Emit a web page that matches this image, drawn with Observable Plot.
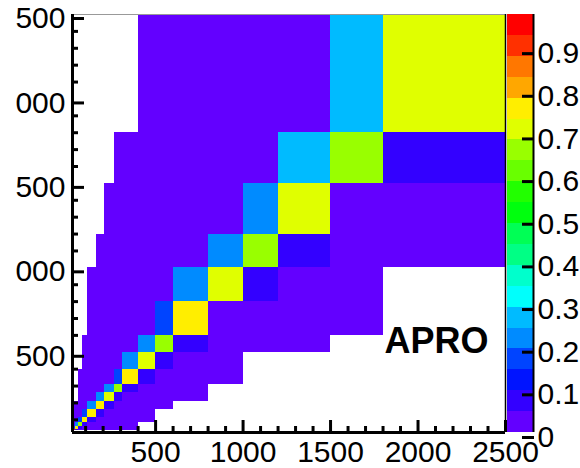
<!DOCTYPE html>
<html><head><meta charset="utf-8">
<script src="https://cdn.jsdelivr.net/npm/d3@7"></script>
<script src="https://cdn.jsdelivr.net/npm/@observablehq/plot@0.6"></script>
<style>
body{margin:0;background:#fff;}
#wrap{position:relative;width:580px;height:468px;overflow:hidden;background:#fff;}
#wrap svg{position:absolute;top:0;overflow:visible;}
</style></head><body><div id="wrap"></div>
<script>
// Bin edges (same binning on both axes)
const binEdges = [35, 45, 62, 83, 112, 160, 210, 263, 310, 400, 500, 600, 800, 1000, 1200, 1500, 1800, 2500];
const axisRange = [25, 2500];
const majorTicks = [500, 1000, 1500, 2000, 2500];
const minorTicks = [100, 200, 300, 400, 600, 700, 800, 900, 1100, 1200, 1300, 1400, 1600, 1700, 1800, 1900, 2100, 2200, 2300, 2400];
const zTicks = [0, 0.1, 0.2, 0.3, 0.4, 0.5, 0.6, 0.7, 0.8, 0.9];
const zMax = 0.98;
const nLevels = 20;
const annotation = ["APRO"];
// ROOT "pretty" palette picked for 20 contour levels
const palette = ["#6300ff","#3300ff","#0014ff","#0044ff","#008bff","#00bbff","#00fffc","#00ffcc","#00ff85","#00ff55",
                 "#00ff0e","#22ff00","#69ff00","#99ff00","#e0ff00","#ffee00","#ffa700","#ff7700","#ff3000","#ff0000"];
// Matrix: rows = y bins (bottom to top), columns = x bins (left to right); 0 = empty
const z = [
  [0.98,0.07,0.02,0.02,0.02,0.02,0.02,0.02,0.02,0,0,0,0,0,0,0,0],
  [0.17,0.76,0.07,0.02,0.02,0.02,0.02,0.02,0.02,0,0,0,0,0,0,0,0],
  [0.02,0.22,0.66,0.07,0.02,0.02,0.02,0.02,0.02,0,0,0,0,0,0,0,0],
  [0.02,0.02,0.17,0.76,0.07,0.02,0.02,0.02,0.02,0.02,0,0,0,0,0,0,0],
  [0.02,0.02,0.02,0.17,0.76,0.07,0.02,0.02,0.02,0.02,0,0,0,0,0,0,0],
  [0.02,0.02,0.02,0.02,0.22,0.76,0.07,0.02,0.02,0.02,0.02,0,0,0,0,0,0],
  [0,0,0.02,0.02,0.02,0.22,0.71,0.07,0.02,0.02,0.02,0.02,0,0,0,0,0],
  [0,0,0.02,0.02,0.02,0.02,0.22,0.66,0.07,0.02,0.02,0.02,0,0,0,0,0],
  [0,0,0.02,0.02,0.02,0.02,0.02,0.17,0.76,0.07,0.02,0.02,0.02,0,0,0,0],
  [0,0,0,0.02,0.02,0.02,0.02,0.02,0.22,0.71,0.07,0.02,0.02,0,0,0,0],
  [0,0,0,0.02,0.02,0.02,0.02,0.02,0.02,0.22,0.66,0.07,0.02,0.02,0.02,0,0],
  [0,0,0,0,0.02,0.02,0.02,0.02,0.02,0.02,0.17,0.76,0.02,0.02,0.02,0.02,0],
  [0,0,0,0,0.02,0.02,0.02,0.02,0.02,0.02,0.02,0.22,0.71,0.07,0.02,0.02,0],
  [0,0,0,0,0,0.02,0.02,0.02,0.02,0.02,0.02,0.02,0.22,0.66,0.07,0.02,0.02],
  [0,0,0,0,0,0,0.02,0.02,0.02,0.02,0.02,0.02,0.02,0.22,0.71,0.02,0.02],
  [0,0,0,0,0,0,0,0.02,0.02,0.02,0.02,0.02,0.02,0.02,0.27,0.66,0.07],
  [0,0,0,0,0,0,0,0,0,0.02,0.02,0.02,0.02,0.02,0.02,0.27,0.71]
];

const cells = [];
z.forEach((row, j) => row.forEach((v, i) => {
  if (v > 0) cells.push({x1: binEdges[i], x2: binEdges[i + 1], y1: binEdges[j], y2: binEdges[j + 1], v});
}));
const thresholds = d3.range(1, nLevels).map(k => k * zMax / nLevels);
const levels = d3.range(nLevels).map(k => ({lo: k * zMax / nLevels, hi: (k + 1) * zMax / nLevels, c: palette[k]}));

const font = "'Liberation Sans', Arial, Helvetica, sans-serif";
const fmt = d => String(d);

const main = Plot.plot({
  width: 580, height: 468,
  marginLeft: 72, marginRight: 75, marginTop: 14, marginBottom: 36,
  style: {fontFamily: font, background: "transparent", overflow: "visible"},
  x: {domain: axisRange, axis: null, label: null},
  y: {domain: axisRange, axis: null, label: null},
  color: {type: "threshold", domain: thresholds, range: palette},
  marks: [
    Plot.rect(cells, {x1: "x1", x2: "x2", y1: "y1", y2: "y2", fill: "v", shapeRendering: "crispEdges"}),
    Plot.ruleY([axisRange[1]], {stroke: "#999", strokeWidth: 1}),
    Plot.ruleX([axisRange[1]], {stroke: "#000", strokeWidth: 1.5}),
    Plot.ruleX([axisRange[0]], {stroke: "#000", strokeWidth: 3}),
    Plot.ruleY([axisRange[0]], {stroke: "#000", strokeWidth: 3}),
    Plot.axisX(minorTicks, {tickSize: -6, strokeWidth: 3, fill: "none", label: null}),
    Plot.axisY(minorTicks, {tickSize: -6, strokeWidth: 3, fill: "none", label: null}),
    Plot.axisX(majorTicks, {tickSize: -12, strokeWidth: 3, tickPadding: 20, fontSize: 30, tickFormat: fmt, label: null, fill: "#000"}),
    Plot.axisY(majorTicks, {tickSize: -12, strokeWidth: 3, tickPadding: 19, dy: 4, fontSize: 30, tickFormat: fmt, label: null, fill: "#000"}),
    Plot.text(annotation, {frameAnchor: "bottom-right", textAnchor: "end", lineAnchor: "bottom", dx: -17, dy: -80,
      fontSize: 36, fontWeight: "bold", fill: "#000"})
  ]
});
main.style.left = "0px";
// the reference crops the leading digit of the left-hand labels
main.style.clipPath = "inset(0px 0px 0px 15px)";

const bar = Plot.plot({
  width: 73, height: 468,
  marginLeft: 0, marginRight: 47, marginTop: 14, marginBottom: 36,
  style: {fontFamily: font, background: "transparent", overflow: "visible"},
  x: {domain: [0, 1], axis: null},
  y: {domain: [0, zMax], axis: null, label: null},
  marks: [
    Plot.rect(levels, {y1: "lo", y2: "hi", fill: "c", shapeRendering: "crispEdges"}),
    Plot.ruleX([1], {stroke: "#000", strokeWidth: 2}),
    Plot.axisY(zTicks, {anchor: "right", tickSize: -12, strokeWidth: 3, tickPadding: 16, dy: 5, fontSize: 30,
      tickFormat: d => d === 0 ? "0" : d.toFixed(1), label: null, fill: "#000", textAnchor: "start"})
  ]
});
bar.style.left = "507px";

const wrap = document.getElementById("wrap");
wrap.appendChild(main);
wrap.appendChild(bar);
</script></body></html>
